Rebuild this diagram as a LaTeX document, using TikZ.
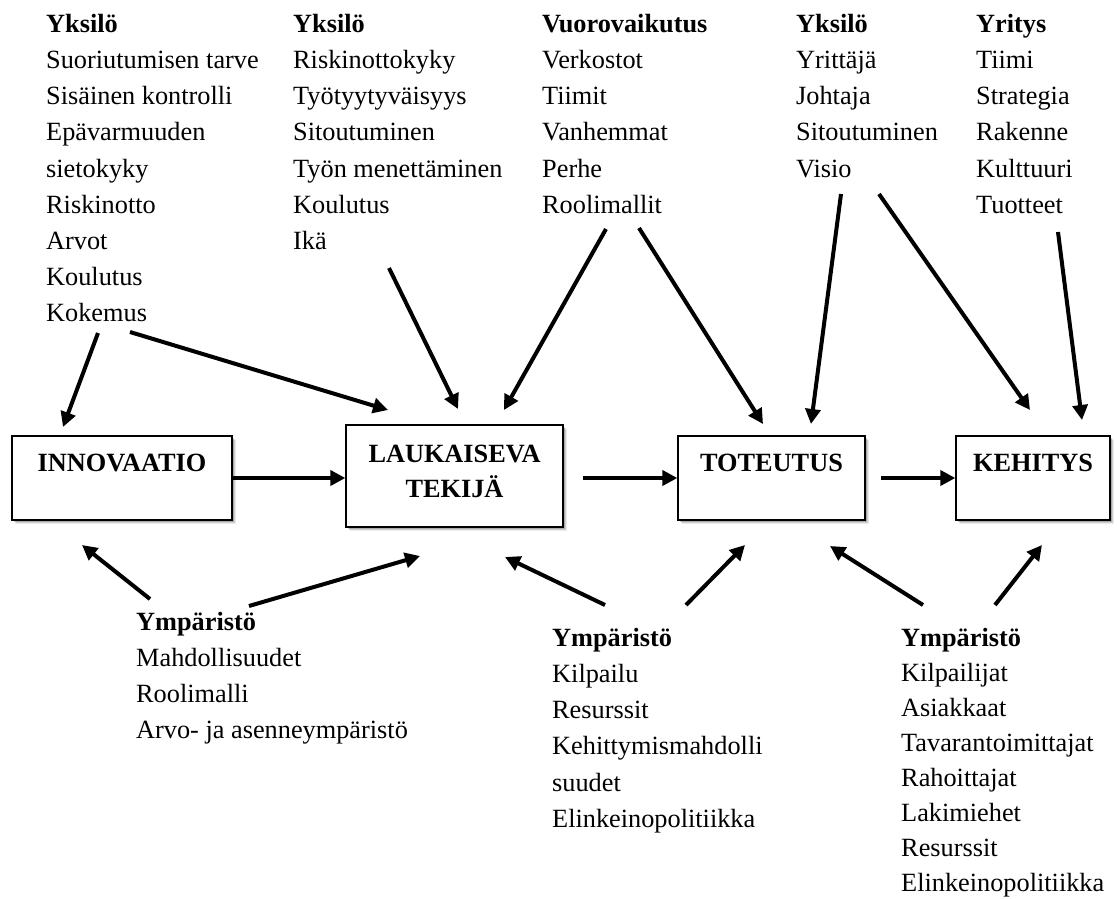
\documentclass[tikz,border=0pt]{standalone}
\usepackage{fontspec}
\setmainfont{Liberation Serif}
\usetikzlibrary{arrows.meta,shadows}

% invisible strut that adds depth below the last line of a label
\newcommand\stagedepth[1]{\rule[-#1]{0pt}{#1}}
% bold column heading with a fixed top height
\newcommand\colhead[1]{\rule{0pt}{19pt}\textbf{#1}}

\tikzset{
  stage/.style={draw, line width=1.3pt, fill=white, inner sep=0pt,
    align=center, font=\fontsize{26.3}{35}\selectfont\bfseries,
    drop shadow={shadow xshift=4pt, shadow yshift=-4pt, fill=black, opacity=0.08},
    drop shadow={shadow xshift=3pt, shadow yshift=-3pt, fill=black, opacity=0.12},
    drop shadow={shadow xshift=1.8pt, shadow yshift=-1.8pt, fill=black, opacity=0.18}},
  factors/.style={anchor=north west, inner sep=0pt, align=left,
    font=\fontsize{26.3}{36.2}\selectfont},
  arr/.style={line width=4pt, -{Triangle[length=15pt,width=15pt]}}
}

\begin{document}
\begin{tikzpicture}[x=1pt, y=-1pt]
\useasboundingbox (0,0) rectangle (1117,898);

% process stages
\node[stage, minimum width=220pt, minimum height=84pt] (innov) at (122,478)
  {INNOVAATIO\stagedepth{30pt}};
\node[stage, minimum width=217pt, minimum height=102pt] (lauk) at (454.5,476)
  {LAUKAISEVA\\TEKIJÄ\stagedepth{10pt}};
\node[stage, minimum width=187pt, minimum height=84pt] (tot) at (771.5,478)
  {TOTEUTUS\stagedepth{30pt}};
\node[stage, minimum width=154pt, minimum height=84pt] (keh) at (1033,478)
  {KEHITYS\stagedepth{30pt}};

% influencing factors above the stages
\node[factors] (yks1) at (46,13) {\colhead{Yksilö}\\Suoriutumisen tarve\\Sisäinen kontrolli\\
  Epävarmuuden\\sietokyky\\Riskinotto\\Arvot\\Koulutus\\Kokemus};
\node[factors] (yks2) at (293,13) {\colhead{Yksilö}\\Riskinottokyky\\Työtyytyväisyys\\
  Sitoutuminen\\Työn menettäminen\\Koulutus\\Ikä};
\node[factors] (vuoro) at (542,13) {\colhead{Vuorovaikutus}\\Verkostot\\Tiimit\\Vanhemmat\\
  Perhe\\Roolimallit};
\node[factors] (yks3) at (796,13) {\colhead{Yksilö}\\Yrittäjä\\Johtaja\\Sitoutuminen\\Visio};
\node[factors] (yritys) at (976,13) {\colhead{Yritys}\\Tiimi\\Strategia\\Rakenne\\
  Kulttuuri\\Tuotteet};

% environment factors below the stages
\node[factors] (ymp1) at (136,611) {\colhead{Ympäristö}\\Mahdollisuudet\\Roolimalli\\
  Arvo- ja asenneympäristö};
\node[factors] (ymp2) at (552,627) {\colhead{Ympäristö}\\Kilpailu\\Resurssit\\
  Kehittymismahdolli\\suudet\\Elinkeinopolitiikka};
\node[factors, font=\fontsize{26.3}{35}\selectfont] (ymp3) at (901,627)
  {\colhead{Ympäristö}\\Kilpailijat\\Asiakkaat\\Tavarantoimittajat\\Rahoittajat\\
  Lakimiehet\\Resurssit\\Elinkeinopolitiikka};

% arrow ends
\coordinate (t1) at (98,333);   \coordinate (h1) at (63,427);
\coordinate (t2) at (130,332);  \coordinate (h2) at (388,410);
\coordinate (t3) at (389,268);  \coordinate (h3) at (458,409);
\coordinate (t4) at (606,229);  \coordinate (h4) at (504,410);
\coordinate (t5) at (639,228);  \coordinate (h5) at (763,424);
\coordinate (t6) at (841,194);  \coordinate (h6) at (811,424);
\coordinate (t7) at (879,194);  \coordinate (h7) at (1030,410);
\coordinate (t8) at (1058,232); \coordinate (h8) at (1082,420);
\coordinate (b1) at (150,599);  \coordinate (g1) at (82,545);
\coordinate (b2) at (249,606);  \coordinate (g2) at (420,556);
\coordinate (b3) at (605,605);  \coordinate (g3) at (505,557);
\coordinate (b4) at (686,605);  \coordinate (g4) at (745,545);
\coordinate (b5) at (923,605);  \coordinate (g5) at (830,546);
\coordinate (b6) at (995,605);  \coordinate (g6) at (1042,545);

% flow between the stages
\draw[arr] (innov.east) -- (innov.east -| lauk.west);
\draw[arr, shorten <=19pt] (lauk.east |- tot.west) -- (tot.west);
\draw[arr, shorten <=15pt] (tot.east) -- (keh.west);

% influences from above
\foreach \i in {1,...,8} \draw[arr] (t\i) -- (h\i);
% influences from below
\foreach \i in {1,...,6} \draw[arr] (b\i) -- (g\i);
\end{tikzpicture}
\end{document}
